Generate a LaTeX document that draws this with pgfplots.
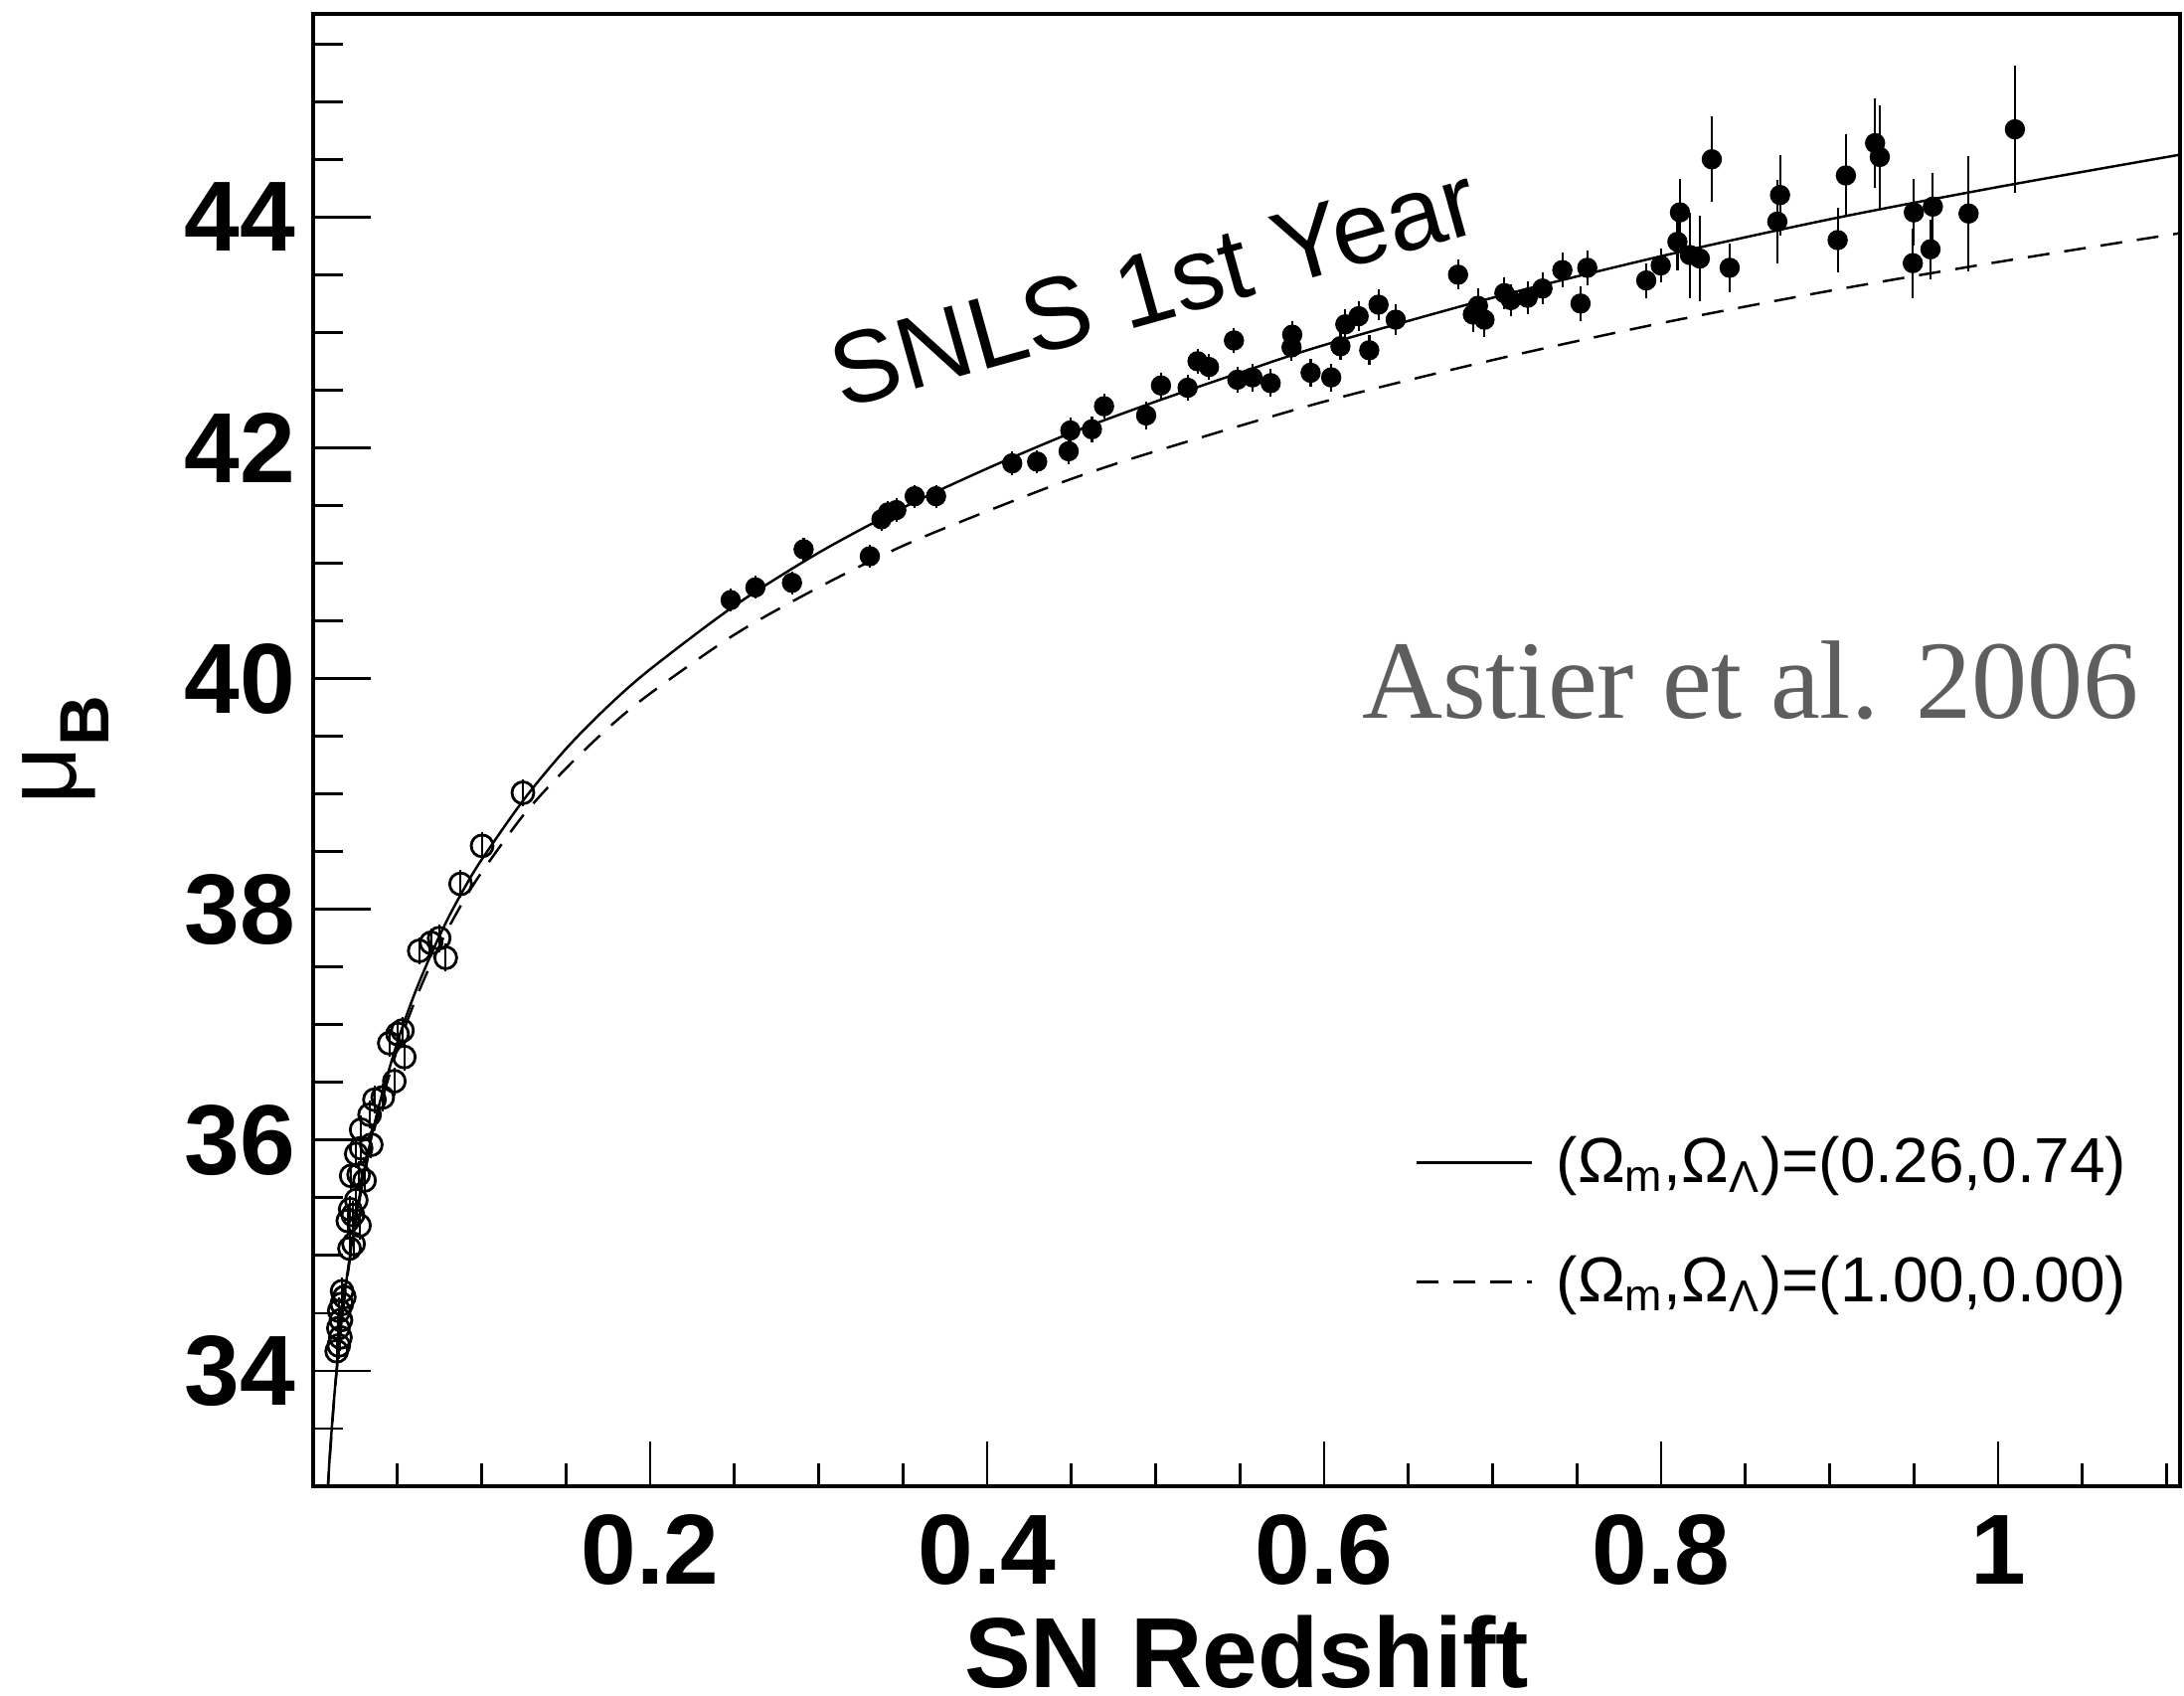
\documentclass[border=0pt]{standalone}
\usepackage{fontspec}
\setmainfont{Liberation Sans}
\newfontfamily\serifA{Liberation Serif}
\usepackage{pgfplots}
\pgfplotsset{compat=1.18}
\definecolor{astgray}{rgb}{0.37,0.37,0.37}

\pgfplotstableread{
z mu
0.0085 32.93
0.0100 33.29
0.0125 33.77
0.0150 34.17
0.0175 34.51
0.0200 34.81
0.0250 35.30
0.0300 35.71
0.0350 36.05
0.0400 36.35
0.0500 36.85
0.0600 37.26
0.0700 37.61
0.0800 37.92
0.0900 38.19
0.1000 38.43
0.1250 38.95
0.1500 39.39
0.1750 39.76
0.2000 40.08
0.2500 40.63
0.3000 41.09
0.3500 41.48
0.4000 41.82
0.4500 42.13
0.5000 42.40
0.5500 42.65
0.6000 42.89
0.7000 43.30
0.8000 43.66
0.9000 43.98
1.0000 44.26
1.1080 44.54
}\lcdm

\pgfplotstableread{
z mu
0.0085 32.92
0.0100 33.27
0.0125 33.76
0.0150 34.16
0.0175 34.49
0.0200 34.78
0.0250 35.27
0.0300 35.67
0.0350 36.01
0.0400 36.30
0.0500 36.79
0.0600 37.19
0.0700 37.53
0.0800 37.83
0.0900 38.09
0.1000 38.32
0.1250 38.82
0.1500 39.22
0.1750 39.57
0.2000 39.87
0.2500 40.38
0.3000 40.79
0.3500 41.15
0.4000 41.45
0.4500 41.73
0.5000 41.97
0.6000 42.40
0.7000 42.76
0.8000 43.08
0.9000 43.36
1.0000 43.61
1.1080 43.86
}\eds

\pgfplotstableread{
z mu err
0.0140 34.17 0.12
0.0152 34.22 0.12
0.0162 34.29 0.12
0.0150 34.37 0.12
0.0165 34.44 0.12
0.0155 34.52 0.12
0.0170 34.58 0.12
0.0185 34.64 0.12
0.0172 34.69 0.12
0.0216 35.06 0.12
0.0240 35.10 0.12
0.0206 35.30 0.12
0.0236 35.35 0.12
0.0275 35.26 0.12
0.0220 35.40 0.12
0.0256 35.48 0.12
0.0226 35.69 0.12
0.0270 35.70 0.12
0.0305 35.65 0.12
0.0256 35.88 0.12
0.0285 35.93 0.12
0.0345 35.96 0.12
0.0285 36.09 0.12
0.0335 36.22 0.12
0.0364 36.35 0.12
0.0413 36.37 0.12
0.0482 36.51 0.12
0.0541 36.72 0.12
0.0452 36.84 0.12
0.0501 36.92 0.12
0.0530 36.95 0.12
0.0630 37.64 0.12
0.0700 37.71 0.12
0.0748 37.75 0.12
0.0787 37.58 0.12
0.0875 38.22 0.12
0.1003 38.55 0.12
0.1245 39.01 0.12
}\nearby

\pgfplotstableread{
z mu err
0.2478 40.68 0.10
0.2625 40.79 0.10
0.2842 40.83 0.10
0.2911 41.12 0.10
0.3304 41.06 0.10
0.3373 41.38 0.10
0.3412 41.44 0.10
0.3461 41.46 0.10
0.3570 41.58 0.10
0.3697 41.58 0.10
0.4149 41.865 0.10
0.4297 41.88 0.10
0.4484 41.97 0.11
0.4494 42.15 0.11
0.4622 42.16 0.11
0.4694 42.36 0.11
0.4944 42.28 0.12
0.5032 42.54 0.11
0.5190 42.52 0.11
0.5249 42.75 0.11
0.5317 42.70 0.11
0.5465 42.93 0.11
0.5485 42.59 0.11
0.5575 42.61 0.12
0.5683 42.56 0.12
0.5807 42.87 0.12
0.5811 42.98 0.12
0.5920 42.65 0.12
0.6042 42.61 0.12
0.6097 42.88 0.12
0.6126 43.07 0.13
0.6205 43.14 0.13
0.6268 42.845 0.13
0.6323 43.24 0.13
0.6425 43.11 0.13
0.6795 43.50 0.13
0.6883 43.155 0.15
0.6913 43.23 0.15
0.6952 43.11 0.15
0.7070 43.34 0.14
0.7109 43.28 0.14
0.7208 43.30 0.14
0.7296 43.38 0.14
0.7414 43.54 0.15
0.7522 43.25 0.15
0.7562 43.56 0.15
0.7912 43.45 0.15
0.7998 43.58 0.15
0.8097 43.785 0.25
0.8112 44.04 0.29
0.8171 43.67 0.37
0.8230 43.64 0.37
0.8301 44.50 0.37
0.8407 43.56 0.21
0.8690 43.96 0.36
0.8706 44.19 0.35
0.9048 43.80 0.28
0.9097 44.36 0.36
0.9270 44.64 0.39
0.9298 44.52 0.45
0.9494 43.60 0.30
0.9500 44.04 0.29
0.9599 43.72 0.26
0.9613 44.09 0.29
0.9825 44.03 0.50
1.0100 44.76 0.55
}\snls

\begin{document}
\begin{tikzpicture}
\begin{axis}[
  at={(0,0)}, anchor=south west,
  scale only axis,
  width=187.8mm, height=148.1mm,
  xmin=0, xmax=1.108, ymin=33, ymax=45.76,
  axis line style={line width=1.1pt},
  tick align=inside,
  tick pos=left,
  xtick={0.2,0.4,0.6,0.8,1},
  minor xtick={0.05,0.1,0.15,0.25,0.3,0.35,0.45,0.5,0.55,0.65,0.7,0.75,0.85,0.9,0.95,1.05,1.1},
  ytick={34,36,38,40,42,44},
  minor ytick={33.5,34.5,35,35.5,36.5,37,37.5,38.5,39,39.5,40.5,41,41.5,42.5,43,43.5,44.5,45,45.5},
  xtick style={/pgfplots/major tick length=4.5mm, /pgfplots/minor tick length=2.3mm, black, line width=0.8pt},
  ytick style={/pgfplots/major tick length=5.8mm, /pgfplots/minor tick length=3.0mm, black, line width=0.8pt},
  /pgf/number format/assume math mode=true,
  ticklabel style={font=\fontsize{28.5}{30}\selectfont\bfseries},
  xticklabel style={anchor=base, yshift=-9.8mm, inner sep=0pt},
  yticklabel style={anchor=east, xshift=-1.7mm, inner sep=0pt},
  xlabel={SN Redshift},
  ylabel={{\fontsize{29}{30}\selectfont μ}\raisebox{-3.3mm}{\fontsize{20}{20}\selectfont\bfseries B}},
  every axis x label/.style={at={(rel axis cs:0.5,-0.1364)}, anchor=base, inner sep=0pt, font=\fontsize{28.5}{30}\selectfont\bfseries},
  every axis y label/.style={at={(rel axis cs:-0.1090,0.5)}, anchor=south, rotate=90, inner sep=0pt},
  legend style={draw=none, fill=none, at={(0.5898,0.2384)}, anchor=north west, inner sep=0pt,
    font=\fontsize{18.2}{20}\selectfont, row sep=5.8mm, column sep=2.4mm,
    nodes={inner sep=0pt, text height=4.7mm, text depth=1.5mm}},
  legend cell align=left,
  legend image code/.code={\draw[#1] (0mm,0.4mm) -- (11.6mm,0.4mm);},
]
\addplot[black, line width=0.7pt, smooth] table[x=z, y=mu] {\lcdm};
\addlegendentry{(Ω\textsubscript{m},Ω\textsubscript{Λ})=(0.26,0.74)}
\addplot[black, line width=0.7pt, smooth, dash pattern=on 2.2mm off 1.5mm] table[x=z, y=mu] {\eds};
\addlegendentry{(Ω\textsubscript{m},Ω\textsubscript{Λ})=(1.00,0.00)}

\addplot[forget plot, only marks, mark=o, mark size=1.1mm, mark options={line width=0.28mm, black},
  error bars/.cd, y dir=both, y explicit, error mark=none, error bar style={line width=0.2mm, black}]
  table[x=z, y=mu, y error=err] {\nearby};
\addplot[forget plot, only marks, mark=*, mark size=0.95mm, mark options={black, fill=black},
  error bars/.cd, y dir=both, y explicit, error mark=none, error bar style={line width=0.22mm, black}]
  table[x=z, y=mu, y error=err] {\snls};

\node[rotate=15.6, anchor=base west, inner sep=0pt, font=\fontsize{29.2}{30}\selectfont] at (axis cs:0.3139,42.33) {SNLS 1st Year};
\node[anchor=base east, inner sep=0pt, text=astgray, font=\serifA\fontsize{31.9}{34}\selectfont] at (axis cs:1.084,39.66) {Astier et al. 2006};
\end{axis}
\pgfresetboundingbox
\useasboundingbox (-31.5mm,-21.0mm) rectangle (188.2mm,149.5mm);
\end{tikzpicture}
\end{document}
